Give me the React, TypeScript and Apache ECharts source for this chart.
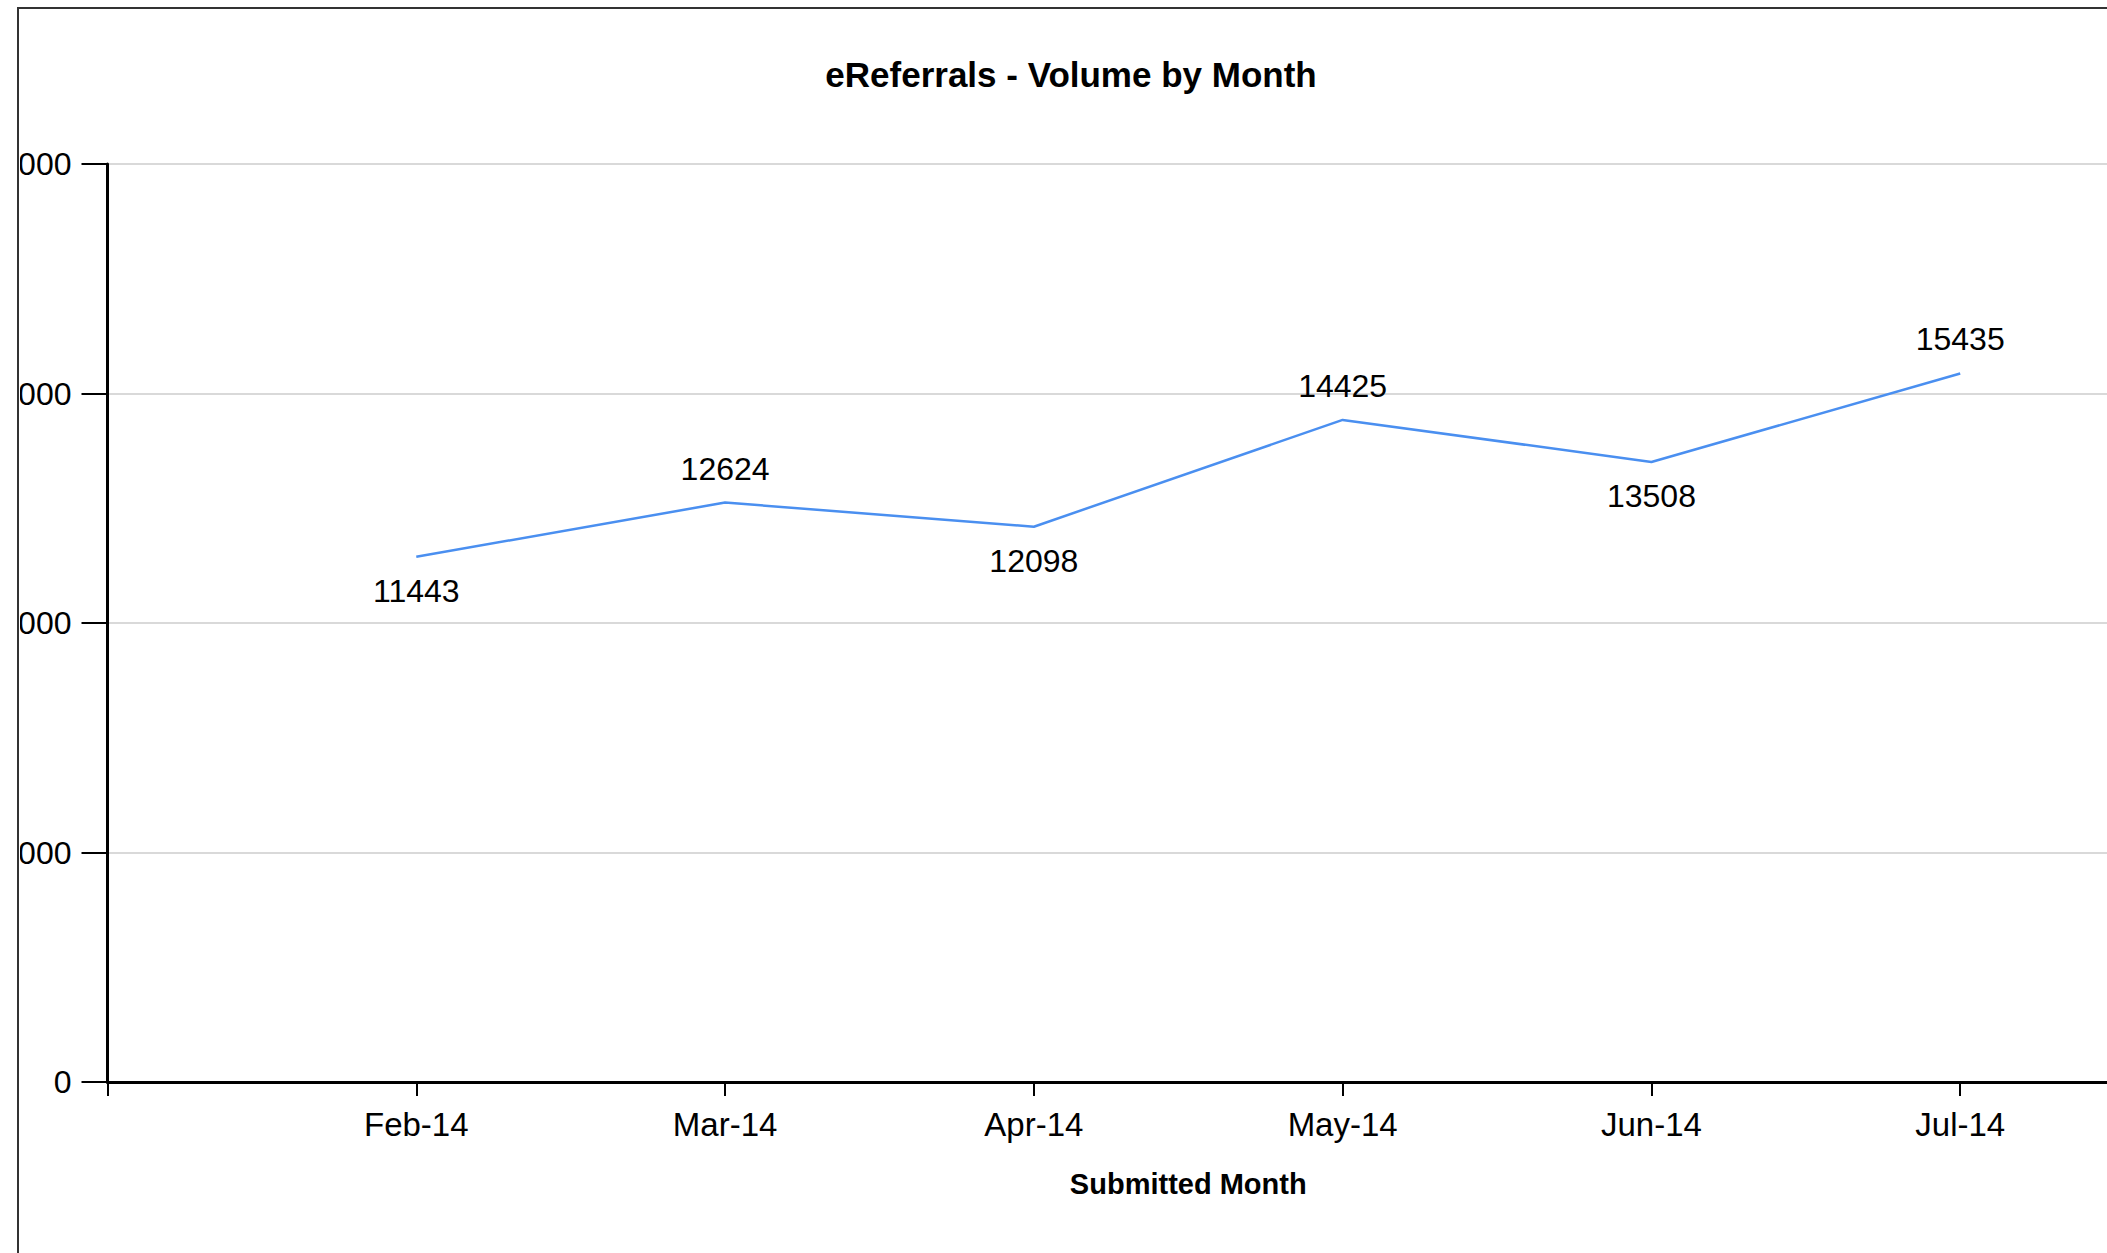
import React, { useEffect, useRef } from "react";
import * as echarts from "echarts";

const months = ["", "Feb-14", "Mar-14", "Apr-14", "May-14", "Jun-14", "Jul-14", ""];
const volumes: (number | null)[] = [null, 11443, 12624, 12098, 14425, 13508, 15435, null];
const yMin = 0;
const yMax = 20000;
const yStep = 5000;
const titleText = "eReferrals - Volume by Month";
const xAxisName = "Submitted Month";

const FONT = "'Liberation Sans', Arial, sans-serif";
const OFFX = 100; // chart x = page x + OFFX

export default function App() {
  const ref = useRef<HTMLDivElement>(null);
  useEffect(() => {
    if (!ref.current) return;
    const chart = echarts.init(ref.current, undefined, { renderer: "svg" });
    const data = volumes.map((v, i) => {
      if (v == null) return "-";
      const prev = volumes[i - 1];
      const next = volumes[i + 1];
      const peak = (prev == null || v > prev) && (next == null || v > next);
      return { value: v, label: { position: peak ? "top" : "bottom" } };
    });
    chart.setOption({
      animation: false,
      backgroundColor: "transparent",
      graphic: [
        {
          type: "text",
          x: 1071 + OFFX,
          y: 74,
          style: {
            text: titleText,
            font: `bold 35px ${FONT}`,
            fill: "#000",
            textAlign: "center",
            textVerticalAlign: "middle",
          },
        },
      ],
      grid: { left: 107.5 + OFFX, top: 164, width: 2269 - 107.5, height: 1082 - 164, containLabel: false },
      xAxis: {
        type: "category",
        data: months,
        boundaryGap: false,
        name: xAxisName,
        nameLocation: "middle",
        nameGap: 87,
        nameTextStyle: { fontFamily: FONT, fontWeight: "bold", fontSize: 29, color: "#000" },
        axisLine: { lineStyle: { color: "#000", width: 3 } },
        axisTick: { show: true, length: 14, lineStyle: { color: "#000", width: 2 } },
        axisLabel: { fontFamily: FONT, fontSize: 33, color: "#000", margin: 26, interval: 0 },
        splitLine: { show: false },
      },
      yAxis: {
        type: "value",
        min: yMin,
        max: yMax,
        interval: yStep,
        axisLine: { show: true, lineStyle: { color: "#000", width: 3 } },
        axisTick: { show: true, length: 26, lineStyle: { color: "#000", width: 2 } },
        axisLabel: { fontFamily: FONT, fontSize: 32, color: "#000", margin: 36 },
        splitLine: { show: true, lineStyle: { color: "#d9d9d9", width: 2 } },
      },
      series: [
        {
          type: "line",
          data,
          connectNulls: false,
          symbol: "circle",
          symbolSize: 0.1,
          showSymbol: true,
          itemStyle: { color: "#4a8ff0" },
          lineStyle: { color: "#4a8ff0", width: 2.5 },
          label: {
            show: true,
            fontFamily: FONT,
            fontSize: 32,
            color: "#000",
            distance: 18,
          },
        },
      ],
    });
    return () => chart.dispose();
  }, []);

  return (
    <div style={{ position: "fixed", left: 0, top: 0, width: 2107, height: 1253, overflow: "hidden", background: "#fff" }}>
      <div
        style={{
          position: "absolute",
          left: 17,
          top: 7,
          width: 2300,
          height: 1400,
          border: "2px solid #333",
          boxSizing: "border-box",
        }}
      />
      <div style={{ position: "absolute", left: 20, top: 10, width: 2087, height: 1243, overflow: "hidden" }}>
        <div ref={ref} style={{ position: "absolute", left: -20 - OFFX, top: -10, width: 2500, height: 1300 }} />
      </div>
    </div>
  );
}
